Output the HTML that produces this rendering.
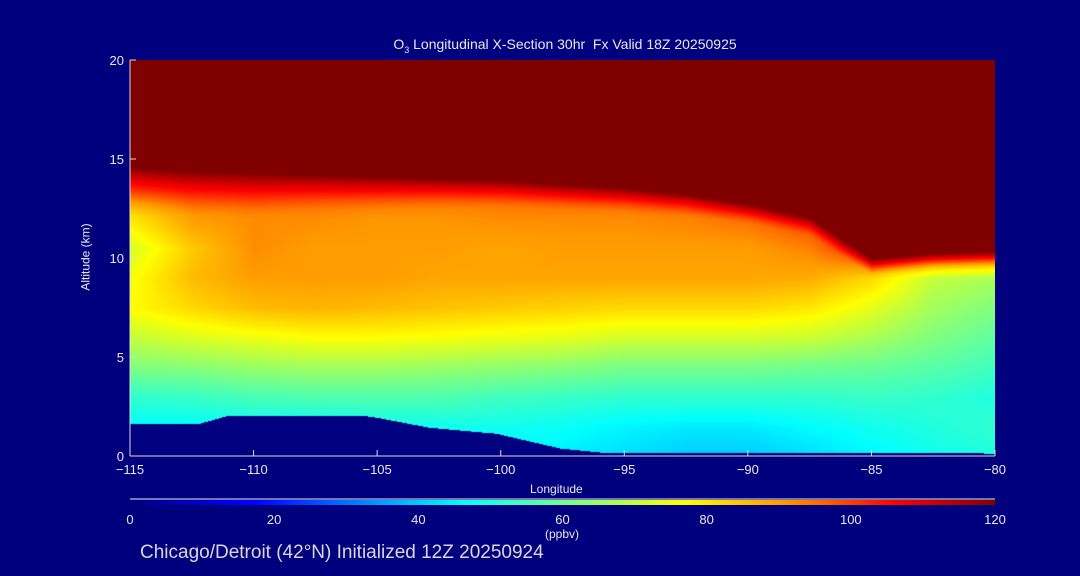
<!DOCTYPE html>
<html><head><meta charset="utf-8">
<style>
html,body{margin:0;padding:0;background:#00007f;width:1080px;height:576px;overflow:hidden}
#wrap{position:relative;width:1080px;height:576px;font-family:"Liberation Sans",sans-serif;color:#e8e8e8}
.t{position:absolute;white-space:nowrap}
</style></head><body>
<div id="wrap">
<div class="t" style="left:0;width:1130px;text-align:center;top:36px;font-size:14px">O<sub style="font-size:9px">3</sub> Longitudinal X-Section 30hr&nbsp; Fx Valid 18Z 20250925</div>
<canvas id="plot" width="865" height="396" style="position:absolute;left:130px;top:60px"></canvas>
<svg id="axes" width="1080" height="576" style="position:absolute;left:0;top:0"></svg>
<canvas id="cbar" width="865" height="5" style="position:absolute;left:130px;top:500px"></canvas>
<div class="t" style="left:530px;top:482px;font-size:12px">Longitude</div>
<div class="t" style="left:52px;top:250px;font-size:12px;transform:rotate(-90deg)">Altitude (km)</div>
<div class="t" style="left:545px;top:527px;font-size:12px">(ppbv)</div>
<div class="t" style="left:140px;top:542px;font-size:19px;color:#d8d8d8">Chicago/Detroit (42°N) Initialized 12Z 20250924</div>
</div>
<script>
const lons=[-115,-112.5,-110,-107.5,-105,-102.5,-100,-97.5,-95,-92.5,-90,-87.5,-85,-82.5,-80];
const tropopause=[14.7,14.5,14.4,14.3,14.2,14.1,14.0,13.8,13.6,13.3,12.8,12.1,10.0,10.3,10.4];
const bandWidth=[2.6,2.4,2.2,2.0,1.8,1.6,1.5,1.4,1.3,1.2,1.1,1.0,0.9,0.9,0.9];
const alts=[0,1.5,3,4.5,6,7.5,9,10.5,12,13.5];
const o3=[
[45,45,45,45,45,45,45,44,42,40,40,42,45,48,50],
[46,46,47,47,48,48,48,47,45,44,44,46,48,50,52],
[52,53,55,56,56,56,54,53,52,52,52,52,53,52,50],
[62,63,65,66,66,65,64,63,61,61,61,60,59,57,54],
[70,73,75,77,77,76,75,74,72,72,72,71,67,62,58],
[77,82,86,87,86,85,84,83,82,82,82,80,74,66,62],
[76,86,90,90,90,89,89,89,89,89,89,88,82,70,67],
[72,84,92,90,90,90,89,90,90,90,90,93,105,105,105],
[80,90,92,92,91,91,92,92,92,93,95,100,110,110,110],
[90,95,97,96,96,96,96,97,98,100,105,110,115,115,115]];
const terrLon=[-115,-112.2,-111,-105.7,-105,-102.9,-100.2,-97.6,-96,-80];
const terrAlt=[1.65,1.65,2.07,2.07,1.95,1.45,1.15,0.4,0.2,0.15];
const xTicks=[-115,-110,-105,-100,-95,-90,-85,-80];
const yTicks=[0,5,10,15,20];
const cbTicks=[0,20,40,60,80,100,120];
const X0=130,X1=995,Y0=456,Y1=60;
const xs=v=>X0+(v+115)/35*(X1-X0);
const ys=v=>Y0-v/20*(Y0-Y1);
const stops=[[0,[0,0,128]],[17,[0,0,255]],[46,[0,255,255]],[62,[128,255,128]],[77,[255,255,0]],[91,[255,150,0]],[106,[255,0,0]],[120,[128,0,0]]];
function cmap(v){if(v<=0)return stops[0][1];if(v>=120)return stops[stops.length-1][1];
for(let i=1;i<stops.length;i++){if(v<=stops[i][0]){const a=stops[i-1],b=stops[i],t=(v-a[0])/(b[0]-a[0]);return a[1].map((c,k)=>Math.round(c+(b[1][k]-c)*t));}}}
function interp1(arr,xsA,x){if(x<=xsA[0])return arr[0];for(let i=1;i<xsA.length;i++){if(x<=xsA[i]){const t=(x-xsA[i-1])/(xsA[i]-xsA[i-1]);return arr[i-1]+(arr[i]-arr[i-1])*t;}}return arr[arr.length-1];}
function base(lon,alt){if(alt>=alts[alts.length-1])return interp1(o3[alts.length-1],lons,lon);let j=0;while(j<alts.length-2&&alt>alts[j+1])j++;const ta=(alt-alts[j])/(alts[j+1]-alts[j]);
const r0=interp1(o3[j],lons,lon),r1=interp1(o3[j+1],lons,lon);return r0+(r1-r0)*ta;}
function field(lon,alt){const tp=interp1(tropopause,lons,lon);if(alt>=tp)return 130;const b=base(lon,alt);const w=interp1(bandWidth,lons,lon);
if(alt>tp-w){const t=(alt-(tp-w))/w;const s=Math.pow(t,1.6);return b+(122-b)*s;}return b;}
const cv=document.getElementById('plot'),ctx=cv.getContext('2d');const W=cv.width,H=cv.height;const img=ctx.createImageData(W,H);
for(let py=0;py<H;py++){const alt=(H-py)/H*20;for(let px=0;px<W;px++){const lon=-115+px/W*35;const o=(py*W+px)*4;let c;
if(alt<interp1(terrAlt,terrLon,lon))c=[0,0,128];else c=cmap(field(lon,alt));img.data[o]=c[0];img.data[o+1]=c[1];img.data[o+2]=c[2];img.data[o+3]=255;}}
ctx.putImageData(img,0,0);
const cb=document.getElementById('cbar'),cc=cb.getContext('2d');for(let px=0;px<cb.width;px++){const c=cmap(px/cb.width*120);cc.fillStyle=`rgb(${c})`;cc.fillRect(px,0,1,5);}
const svg=document.getElementById('axes');const NS='http://www.w3.org/2000/svg';
function mk(tag,at){const e=document.createElementNS(NS,tag);for(const k in at)e.setAttribute(k,at[k]);svg.appendChild(e);return e;}
const cbl=mk('line',{x1:X0,x2:X1,y1:499,y2:499,stroke:'#eee'});


const xa=mk('line',{x1:X0,x2:X1,y1:Y0,y2:Y0,stroke:'#ddd'});


const ya=mk('line',{x1:X0,x2:X0,y1:Y0,y2:Y1,stroke:'#ddd'});


xTicks.forEach(v=>{const l=mk('line',{x1:xs(v),x2:xs(v),y1:Y0,y2:Y0-6,stroke:'#ddd'});


const t=mk('text',{x:xs(v),y:Y0+18,fill:'#e8e8e8','font-size':13,'text-anchor':'middle','font-family':'Liberation Sans, sans-serif'});t.textContent=(v<0?'\u2212'+(-v):v);

});
yTicks.forEach(v=>{const l=mk('line',{x1:X0,x2:X0+6,y1:ys(v),y2:ys(v),stroke:'#ddd'});


const t=mk('text',{x:X0-6,y:ys(v)+5,fill:'#e8e8e8','font-size':13,'text-anchor':'end','font-family':'Liberation Sans, sans-serif'});t.textContent=v;

});
cbTicks.forEach(v=>{const t=mk('text',{x:X0+v/120*(X1-X0),y:524,fill:'#e8e8e8','font-size':13,'text-anchor':'middle','font-family':'Liberation Sans, sans-serif'});t.textContent=v;

});
</script>
</body></html>
